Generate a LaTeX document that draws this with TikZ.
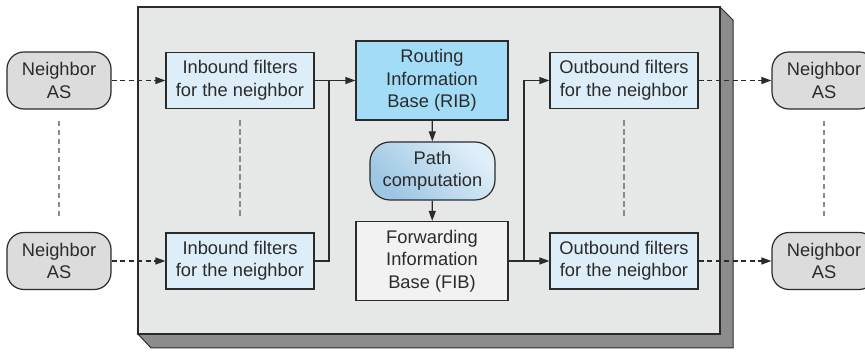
\documentclass[tikz,border=0pt]{standalone}
\usepackage{fontspec}
\setmainfont{Liberation Sans}
\usetikzlibrary{arrows.meta,calc}

\definecolor{ink}{HTML}{2B2B2B}
\definecolor{frontgray}{HTML}{E6E7E7}
\definecolor{sidegray}{HTML}{8C8C8C}
\definecolor{filterblue}{HTML}{DDEEF8}
\definecolor{ribblue}{HTML}{A3DCF6}
\definecolor{fibgray}{HTML}{F2F2F2}
\definecolor{asgray}{HTML}{DCDCDC}
\definecolor{pathdark}{HTML}{9CC6E3}
\definecolor{pathlight}{HTML}{E0EFF9}
\definecolor{dashgray}{HTML}{8A8A8A}

\tikzset{
  box/.style={draw=ink, line width=1.2pt, inner sep=0pt, align=center,
    text=ink, font=\fontsize{18.3}{22.5}\selectfont},
  filterbox/.style={box, fill=filterblue, minimum width=148pt, minimum height=56pt},
  basebox/.style={box, minimum width=152pt, minimum height=79pt},
  asbox/.style={box, fill=asgray, rounded corners=17pt, minimum width=104pt, minimum height=57pt},
  pathbox/.style={box, rounded corners=20pt, minimum width=125pt, minimum height=58pt,
    top color=pathdark, bottom color=pathlight, shading angle=135},
  flow/.style={draw=ink, line width=1.2pt, -{Triangle[length=10pt,width=7pt]}},
  wire/.style={draw=ink, line width=1.2pt},
  dflow/.style={flow, dash pattern=on 5pt off 3.5pt},
  vdash/.style={draw=dashgray, line width=1.3pt, dash pattern=on 5.5pt off 3.5pt},
}

\begin{document}
\begin{tikzpicture}[x=1pt, y=-1pt]
\useasboundingbox (0,0) rectangle (865,352);

% router chassis: raised panel with shaded side and bottom
\fill[sidegray, draw=ink, line width=1pt]
  (720,7) -- (733,20) -- (733,348) -- (151,348) -- (138,334) -- (720,334) -- cycle;
\filldraw[fill=frontgray, draw=ink, line width=1.2pt] (138,7) rectangle (720,334);

% neighbours
\node[asbox] (nLT) at (59,80.5) {Neighbor\\AS};
\node[asbox] (nLB) at (59,261) {Neighbor\\AS};
\node[asbox] (nRT) at (824,80.5) {Neighbor\\AS};
\node[asbox] (nRB) at (824,261) {Neighbor\\AS};

% filters
\node[filterbox] (inT)  at (240,80.5) {Inbound filters\\for the neighbor};
\node[filterbox] (inB)  at (240,261)  {Inbound filters\\for the neighbor};
\node[filterbox] (outT) at (624,80.5) {Outbound filters\\for the neighbor};
\node[filterbox] (outB) at (624,261)  {Outbound filters\\for the neighbor};

% tables and computation
\node[basebox, fill=ribblue] (rib) at (432,80.5) {Routing\\Information\\Base (RIB)};
\node[pathbox] (path) at (432.5,171) {Path\\computation};
\node[basebox, fill=fibgray] (fib) at (432,261) {Forwarding\\Information\\Base (FIB)};

% merge and split points
\coordinate (jl) at (329,80.5);
\coordinate (jr) at (524,261);

% neighbour sessions
\draw[dflow] (nLT) -- (inT);
\draw[dflow] (nLB) -- (inB);
\draw[dflow] (outT) -- (nRT);
\draw[dflow] (outB) -- (nRB);

% inbound to RIB
\draw[flow] (inT) -- (rib);
\draw[wire] (inB.east) -| (jl);

% RIB -> path computation -> FIB
\draw[flow] (rib) -- (path);
\draw[flow] (path) -- (fib);

% FIB to outbound
\draw[flow] (fib) -- (outB);
\draw[flow] (jr) |- (outT.west);

% "more of the same" markers
\draw[vdash, shorten <=11pt, shorten >=14pt] (nLT.south) -- (nLB.north);
\draw[vdash, shorten <=11pt, shorten >=14pt] (inT.south) -- (inB.north);
\draw[vdash, shorten <=11pt, shorten >=14pt] (outT.south) -- (outB.north);
\draw[vdash, shorten <=11pt, shorten >=14pt] (nRT.south) -- (nRB.north);
\end{tikzpicture}
\end{document}
